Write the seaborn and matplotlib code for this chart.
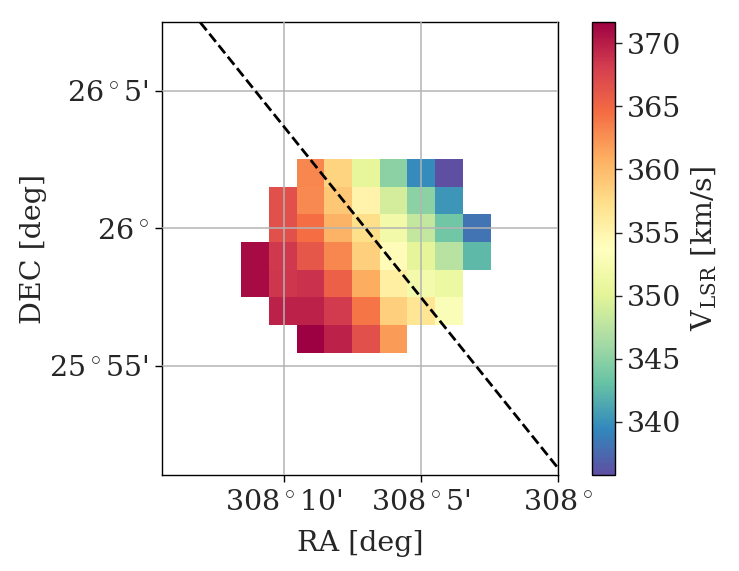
import numpy as np
import pandas as pd
import matplotlib
matplotlib.use("Agg")
import matplotlib.pyplot as plt
import seaborn as sns

# ---------------- data ----------------
# Velocity map (km/s), rows from top (north) to bottom (south), columns from east (left) to west (right)
nan = np.nan
row0 = [nan, nan, 363.1, 358.1, 350.4, 345.0, 339.6, 335.8, nan]
row1 = [nan, 366.7, 363.0, 359.2, 355.2, 349.1, 345.0, 340.2, nan]
row2 = [nan, 366.7, 364.5, 360.6, 357.3, 351.9, 348.1, 343.6, 338.1]
row3 = [371.0, 368.4, 366.2, 363.1, 358.5, 354.1, 350.3, 347.3, 342.5]
row4 = [371.0, 368.6, 368.8, 365.5, 361.0, 355.7, 352.0, 351.2, nan]
row5 = [nan, 369.7, 369.7, 368.2, 364.0, 358.4, 356.6, 353.0, nan]
row6 = [nan, nan, 371.7, 369.7, 366.7, 362.0, nan, nan, nan]
vmap = [row0, row1, row2, row3, row4, row5, row6]

# pixel grid (deg)
ra_edges = np.linspace(308.0409, 308.1924, 10)      # increasing RA
dec_edges = np.linspace(25.9246, 26.0420, 8)        # increasing DEC

# dividing line (RA, DEC end points)
line_ra = [308.2173, 308.0]
line_dec = [26.1248, 25.8547]

xlim = (308.2403, 308.0)
ylim = (25.8505, 26.1248)

xticks = [308 + 10 / 60, 308 + 5 / 60, 308.0]
xticklabels = [r"$\mathregular{308}^\circ$10'", r"$\mathregular{308}^\circ$5'", r"$\mathregular{308}^\circ$"]
yticks = [26 - 5 / 60, 26.0, 26 + 5 / 60]
yticklabels = [r"$\mathregular{25}^\circ$55'", r"$\mathregular{26}^\circ$", r"$\mathregular{26}^\circ$5'"]
cbar_ticks = [340, 345, 350, 355, 360, 365, 370]
vmin, vmax = 335.8, 371.7

# ---------------- build table ----------------
ra_centers_desc = 0.5 * (ra_edges[1:] + ra_edges[:-1])[::-1]   # left (high RA) -> right
dec_centers_desc = 0.5 * (dec_edges[1:] + dec_edges[:-1])[::-1]  # top -> bottom
recs = []
for i, row in enumerate(vmap):
    for j, v in enumerate(row):
        if not np.isnan(v):
            recs.append((ra_centers_desc[j], dec_centers_desc[i], v))
df = pd.DataFrame(recs, columns=["ra", "dec", "v"])

# ---------------- style ----------------
sns.set_style("ticks")
plt.rcParams["font.family"] = ["DejaVu Serif"]
plt.rcParams["mathtext.fontset"] = "cm"
FS = 20.5
plt.rcParams["font.size"] = FS

fig = plt.figure(figsize=(7.39, 5.71), dpi=100)
W, H = 739, 571
ax = fig.add_axes([162.3 / W, (H - 475) / H, (558 - 162.3) / W, (475 - 22.3) / H])
cax = fig.add_axes([591.7 / W, (H - 475) / H, (615 - 591.7) / W, (475 - 21.7) / H])

sns.histplot(data=df, x="ra", y="dec", weights="v", bins=[ra_edges, dec_edges],
             cmap="Spectral_r", vmin=vmin, vmax=vmax, ax=ax, cbar=False)
mesh = ax.collections[-1]

ax.plot(line_ra, line_dec, ls="--", color="black", lw=2, zorder=4)

ax.set_xlim(*xlim)
ax.set_ylim(*ylim)
ax.set_xticks(xticks)
ax.set_xticklabels(xticklabels)
ax.set_yticks(yticks)
ax.set_yticklabels(yticklabels)
ax.set_axisbelow(False)
ax.grid(True, color="#b4b4b4", lw=1.1, zorder=2.5)
ax.tick_params(axis="both", which="major", direction="out", length=5, width=1,
               labelsize=FS, color="black", pad=5)
for s in ax.spines.values():
    s.set_visible(True)
    s.set_color("black")
    s.set_linewidth(1.0)
ax.set_xlabel("RA [deg]", fontsize=FS, labelpad=10)
ax.set_ylabel("DEC [deg]", fontsize=FS, labelpad=1)

cb = fig.colorbar(mesh, cax=cax)
cb.set_ticks(cbar_ticks)
cb.ax.tick_params(labelsize=FS, length=5, width=1, direction="out")
cb.outline.set_edgecolor("black")
cb.outline.set_linewidth(1.0)
cb.set_label(r"V$_\mathregular{LSR}$ [km/s]", fontsize=FS, labelpad=6)

fig.savefig("out.png", dpi=100)
